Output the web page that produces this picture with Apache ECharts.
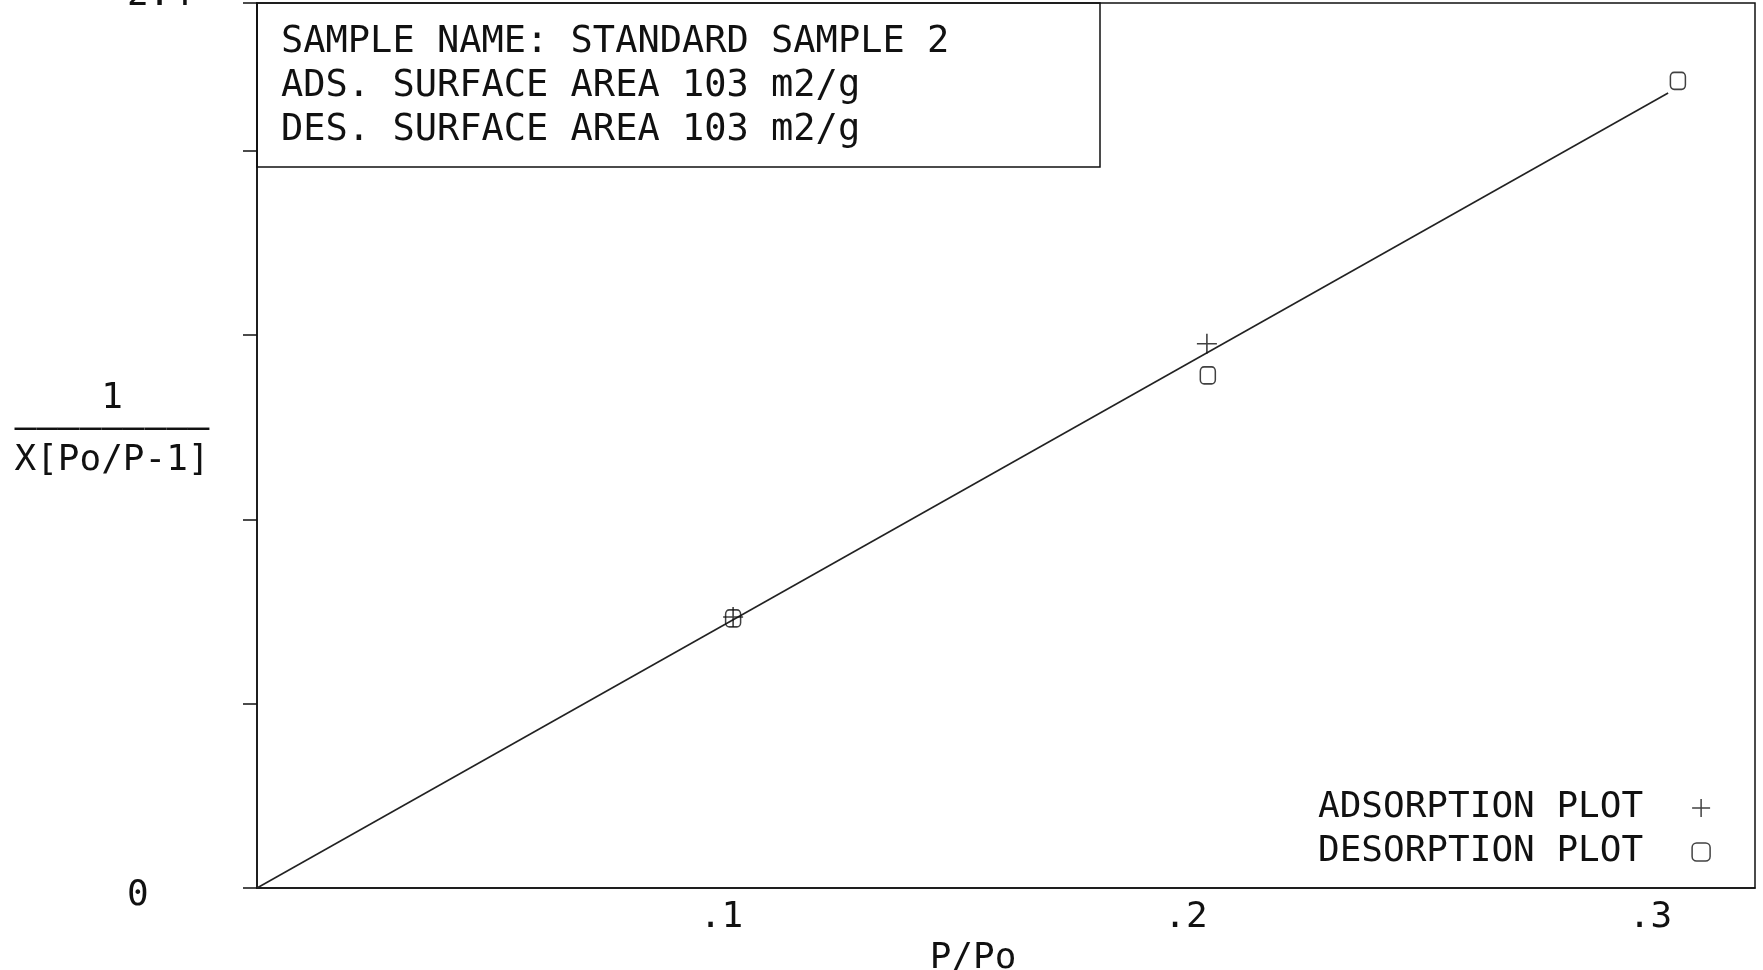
<!DOCTYPE html>
<html>
<head>
<meta charset="utf-8">
<title>BET plot</title>
<script src="https://cdn.jsdelivr.net/npm/echarts@6/dist/echarts.min.js"></script>
<style>
  html, body { margin: 0; padding: 0; background: #fff; }
  #chart { width: 1763px; height: 970px; }
</style>
</head>
<body>
<div id="chart"></div>
<script>
// Relative pressure P/Po for each measured point
const adsorptionX = [0.1025, 0.2045];
const adsorptionY = [0.735, 1.476];
const desorptionX = [0.1025, 0.2047, 0.3059];
const desorptionY = [0.731, 1.390, 2.189];

// BET fit line end points
const fitX = [0.0, 0.3038];
const fitY = [0.0, 2.156];

// Axis ranges and tick steps
const xMin = 0, xMax = 0.3225, xStep = 0.1;
const yMin = 0, yMax = 2.4, yStep = 0.5;

// Text blocks
const infoLines = [
  'SAMPLE NAME: STANDARD SAMPLE 2',
  'ADS. SURFACE AREA 103 m2/g',
  'DES. SURFACE AREA 103 m2/g'
];
const seriesNames = ['ADSORPTION PLOT', 'DESORPTION PLOT'];
const xTitle = 'P/Po';
const yTitleLines = ['1', '–––––––––', 'X[Po/P-1]'];

const ink = '#111';
const monoFont = '"DejaVu Sans Mono", "Liberation Mono", monospace';
const plusSymbol = 'path://M0,10L20,10M10,0L10,20';

const zip = (xs, ys) => xs.map((x, i) => [x, ys[i]]);

const chart = echarts.init(document.getElementById('chart'), null, { renderer: 'canvas' });

chart.setOption({
  backgroundColor: '#fff',
  animation: false,
  grid: {
    left: 257, right: 8, top: 3, bottom: 82,
    containLabel: false,
    outerBoundsMode: 'none',
    show: true, borderColor: ink, borderWidth: 1.5, backgroundColor: 'transparent'
  },
  xAxis: {
    type: 'value',
    min: xMin, max: xMax, interval: xStep,
    splitLine: { show: false },
    axisLine: { show: true, onZero: false, lineStyle: { color: ink, width: 1.5 } },
    axisTick: { show: false },
    axisLabel: {
      margin: 12,
      color: ink,
      fontFamily: monoFont,
      fontSize: 36,
      formatter: v => {
        const k = Math.round(v / xStep);
        return (v > 0 && Math.abs(v - k * xStep) < 1e-9) ? '.' + k : '';
      }
    },
    name: xTitle,
    nameLocation: 'middle',
    nameGap: 48,
    nameTextStyle: {
      color: ink, fontFamily: monoFont, fontSize: 36,
      padding: [0, 66, 0, 0]
    }
  },
  yAxis: {
    type: 'value',
    min: yMin, max: yMax, interval: yStep,
    splitLine: { show: false },
    axisLine: { show: true, lineStyle: { color: ink, width: 1.5 } },
    axisTick: { show: true, inside: false, length: 14, lineStyle: { color: ink, width: 1.5 } },
    axisLabel: {
      align: 'left',
      margin: 130,
      color: ink,
      fontFamily: monoFont,
      fontSize: 36,
      formatter: v => {
        if (v === yMin) return '{bot|' + v + '}';
        if (Math.abs(v - yMax) < 1e-9) return '{top|' + yMax + '}';
        return '';
      },
      rich: {
        top: { color: ink, fontFamily: monoFont, fontSize: 36, padding: [0, 0, 14, 0] },
        bot: { color: ink, fontFamily: monoFont, fontSize: 36, padding: [16, 0, 0, 0] }
      }
    }
  },
  legend: {
    orient: 'vertical',
    left: 1313,
    top: 785,
    align: 'right',
    itemGap: 8,
    itemWidth: 18,
    itemHeight: 18,
    selectedMode: false,
    textStyle: {
      color: ink, fontFamily: monoFont, fontSize: 36,
      padding: [0, 44, 0, 0]
    },
    data: [
      { name: seriesNames[0], icon: plusSymbol,
        itemStyle: { color: 'rgba(0,0,0,0)', borderColor: ink, borderWidth: 1.5 } },
      { name: seriesNames[1], icon: 'roundRect',
        itemStyle: { color: 'rgba(0,0,0,0)', borderColor: ink, borderWidth: 1.5 } }
    ]
  },
  graphic: [
    {
      type: 'rect',
      shape: { x: 257, y: 3, width: 843, height: 164 },
      style: { fill: 'none', stroke: ink, lineWidth: 1.5 },
      silent: true
    },
    {
      type: 'text',
      x: 281, y: 20,
      style: {
        text: infoLines.join('\n'),
        fill: ink,
        font: '37px ' + monoFont,
        lineHeight: 44,
        textAlign: 'left',
        textVerticalAlign: 'top'
      },
      silent: true
    },
    {
      type: 'text',
      x: 112, y: 430,
      style: {
        text: yTitleLines.join('\n'),
        fill: ink,
        font: '36px ' + monoFont,
        lineHeight: 31,
        textAlign: 'center',
        textVerticalAlign: 'middle'
      },
      silent: true
    }
  ],
  series: [
    {
      name: 'BET fit',
      type: 'line',
      data: zip(fitX, fitY),
      showSymbol: false,
      silent: true,
      lineStyle: { color: '#222', width: 1.6 },
      z: 2
    },
    {
      name: seriesNames[0],
      type: 'scatter',
      data: zip(adsorptionX, adsorptionY),
      symbol: plusSymbol,
      symbolSize: 20,
      itemStyle: { color: 'rgba(0,0,0,0)', borderColor: ink, borderWidth: 1.6 },
      z: 3
    },
    {
      name: seriesNames[1],
      type: 'scatter',
      data: zip(desorptionX, desorptionY),
      symbol: 'roundRect',
      symbolSize: [15, 17],
      itemStyle: { color: 'rgba(0,0,0,0)', borderColor: ink, borderWidth: 1.6 },
      z: 3
    }
  ]
});
</script>
</body>
</html>
